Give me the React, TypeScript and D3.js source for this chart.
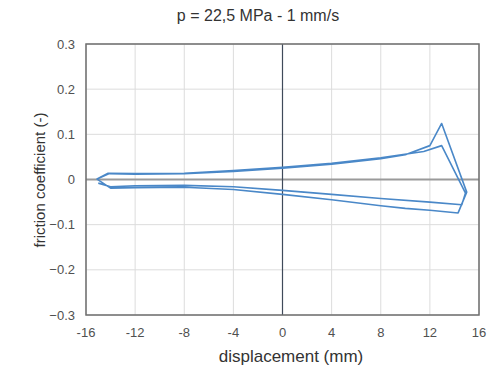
import React from "react";
import * as d3 from "d3";

const xTicks = [-16, -12, -8, -4, 0, 4, 8, 12, 16];
const yTicks = [-0.3, -0.2, -0.1, 0, 0.1, 0.2, 0.3];

const displacement = [
  -15.1, -14.1, -12, -8, -4, 0, 4, 8, 10, 12, 12.96, 15.0, 14.3, 12, 10, 8, 4, 0, -4, -8, -12, -14, -15.1,
  -14.2, -12, -8, -4, 0, 4, 8, 11.5, 12.96, 14.9, 14.6, 12, 8, 4, 0, -4, -8, -12, -14, -15.0,
];
const friction = [
  0.001, 0.013, 0.012, 0.013, 0.018, 0.025, 0.034, 0.046, 0.055, 0.075, 0.124, -0.028, -0.074, -0.068, -0.064, -0.058, -0.045, -0.033, -0.022, -0.017, -0.018, -0.019, 0.001,
  0.014, 0.013, 0.014, 0.02, 0.027, 0.036, 0.048, 0.062, 0.075, -0.03, -0.056, -0.05, -0.042, -0.033, -0.024, -0.016, -0.013, -0.014, -0.016, -0.008,
];

const W = 504;
const H = 368;
const L = 86, R = 479, T = 44, B = 315;

export default function App() {
  const x = d3.scaleLinear().domain([-16, 16]).range([L, R]);
  const y = d3.scaleLinear().domain([-0.3, 0.3]).range([B, T]);
  const pts: [number, number][] = displacement.map((d, i) => [d, friction[i]]);
  const line = d3
    .line<[number, number]>()
    .x((d) => x(d[0]))
    .y((d) => y(d[1]));
  const font = "Arial, 'Liberation Sans', sans-serif";
  return (
    <svg width={W} height={H} style={{ position: "absolute", left: 0, top: 0, background: "#fff" }}>
      <rect x={0} y={0} width={W} height={H} fill="#fff" />
      {xTicks.map((t) => (
        <line key={"gx" + t} x1={x(t)} x2={x(t)} y1={T} y2={B} stroke="#dcdcdc" strokeWidth={1} />
      ))}
      {yTicks.map((t) => (
        <line key={"gy" + t} x1={L} x2={R} y1={y(t)} y2={y(t)} stroke="#dcdcdc" strokeWidth={1} />
      ))}
      <line x1={L} x2={R} y1={y(0)} y2={y(0)} stroke="#9a9a9a" strokeWidth={2} />
      <line x1={x(0)} x2={x(0)} y1={T} y2={B} stroke="#3f4a5a" strokeWidth={1.2} />
      <rect x={L} y={T} width={R - L} height={B - T} fill="none" stroke="#6e6e6e" strokeWidth={1.5} />
      <path d={line(pts) || ""} fill="none" stroke="#4a88c8" strokeWidth={1.6} strokeLinejoin="round" />
      {yTicks.map((t) => (
        <text key={"ty" + t} x={75} y={y(t)} dy="0.35em" textAnchor="end" fontSize={13} fontFamily={font} fill="#505050">
          {t === 0 ? "0" : d3.format(".1f")(t)}
        </text>
      ))}
      {xTicks.map((t) => (
        <text key={"tx" + t} x={x(t)} y={332} dy="0.35em" textAnchor="middle" fontSize={13} fontFamily={font} fill="#505050">
          {t}
        </text>
      ))}
      <text x={258} y={15} dy="0.35em" textAnchor="middle" fontSize={16} fontFamily={font} fill="#333">
        p = 22,5 MPa - 1 mm/s
      </text>
      <text x={291} y={356} dy="0.35em" textAnchor="middle" fontSize={17} fontFamily={font} fill="#333">
        displacement (mm)
      </text>
      <text
        transform={`translate(40,180) rotate(-90)`}
        dy="0.35em"
        textAnchor="middle"
        fontSize={15}
        fontFamily={font}
        fill="#333"
      >
        friction coefficient (-)
      </text>
    </svg>
  );
}
